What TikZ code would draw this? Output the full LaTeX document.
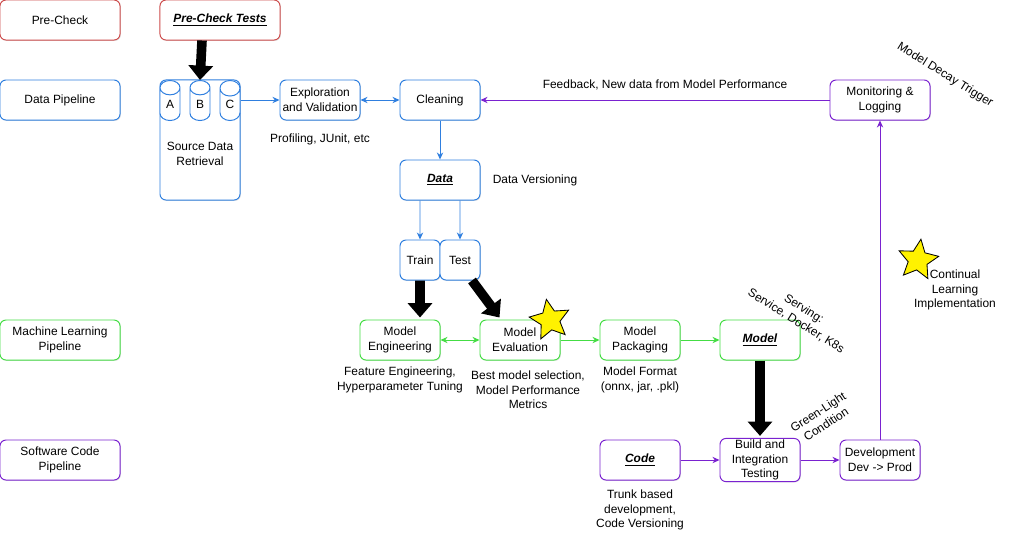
\documentclass[tikz,border=0pt]{standalone}
\usepackage{fontspec}
\setmainfont{Liberation Sans}
\usetikzlibrary{shapes.geometric,arrows.meta,shadows}
\definecolor{prered}{HTML}{CC4B4B}
\definecolor{datablue}{HTML}{2F7FDF}
\definecolor{mlgreen}{HTML}{44DD44}
\definecolor{codepurple}{HTML}{7A22D0}
\begin{document}
\begin{tikzpicture}[
        x=0.025cm, y=-0.025cm,
        every node/.style={font=\fontsize{8.5}{10.4}\selectfont, align=center},
        box/.style={rectangle, rounded corners=0.15cm, draw, fill=white, line width=0.7pt, minimum width=2cm, minimum height=1cm, inner sep=1pt, drop shadow={opacity=0.25, shadow xshift=0.6pt, shadow yshift=-0.6pt}},
        prebox/.style={box, draw=prered},
        databox/.style={box, draw=datablue},
        mlbox/.style={box, draw=mlgreen},
        codebox/.style={box, draw=codepurple},
        lane/.style={minimum width=3cm},
        drum/.style={cylinder, shape border rotate=90, aspect=1.8, draw=datablue, fill=white, line width=0.7pt, minimum width=0.5cm, minimum height=1cm, inner sep=0pt, anchor=north},
        bigarrow/.style={line width=0.24cm, -{Triangle[width=0.6cm, length=0.36cm]}},
        arrow/.style={-{Stealth[length=5pt, width=4.5pt]}, line width=0.6pt},
        twoway/.style={{Stealth[length=5pt, width=4.5pt]}-{Stealth[length=5pt, width=4.5pt]}, line width=0.6pt},
        remark/.style={star, star points=5, star point ratio=2.1, draw, fill=yellow, line width=0.6pt, minimum size=1.05cm, inner sep=0pt}
    ]
    \useasboundingbox (0,0) rectangle (1011,541);

    % row labels
    \node[prebox, lane] (precheck) at (60,20) {Pre-Check};
    \node[databox, lane] (datapipe) at (60,100) {Data Pipeline};
    \node[mlbox, lane] (mlpipe) at (60,340) {Machine Learning\\Pipeline};
    \node[codebox, lane] (codepipe) at (60,460) {Software Code\\Pipeline};

    % data pipeline
    \node[prebox, lane] (tests) at (220,20) {\textbf{\textit{\underline{Pre-Check Tests}}}};
    \node[databox, minimum height=3cm] (source) at (200,140) {};
    \node (sourcetext) at (200,154) {Source Data\\Retrieval};
    \node[drum] (srcA) at (170,80) {\raisebox{-3pt}{A}};
    \node[drum] (srcB) at (200,80) {\raisebox{-3pt}{B}};
    \node[drum] (srcC) at (230,80) {\raisebox{-3pt}{C}};
    \node[databox] (explore) at (320,100) {Exploration\\and Validation};
    \node[databox] (clean) at (440,100) {Cleaning};
    \node[databox] (data) at (440,180) {\textbf{\textit{\underline{Data}}}};
    \node[databox, minimum width=1cm] (train) at (420,260) {Train};
    \node[databox, minimum width=1cm] (test) at (460,260) {Test};
    \node (profiling) at (320,139) {Profiling, JUnit, etc};
    \node (versioning) at (535,180) {Data Versioning};
    \node (feedback) at (665,85) {Feedback, New data from Model Performance};
    \node[rotate=-32] (decay) at (945,75) {Model Decay Trigger};

    % machine learning pipeline
    \node[mlbox] (engineer) at (400,340) {Model\\Engineering};
    \node[mlbox] (evaluate) at (520,340) {Model\\Evaluation};
    \node[mlbox] (package) at (640,340) {Model\\Packaging};
    \node[mlbox] (model) at (760,340) {\textbf{\textit{\underline{Model}}}};
    \node (featnote) at (400,380) {Feature Engineering,\\Hyperparameter Tuning};
    \node (evalnote) at (528,390) {Best model selection,\\Model Performance\\Metrics};
    \node (formatnote) at (640,380) {Model Format\\(onnx, jar, .pkl)};
    \node[rotate=-32] (serving) at (800,315) {Serving:\\Service, Docker, K8s};

    % software code pipeline
    \node[codebox] (code) at (640,460) {\textbf{\textit{\underline{Code}}}};
    \node[codebox] (build) at (760,460) {Build and\\Integration\\Testing};
    \node[codebox] (deploy) at (880,460) {Development\\Dev -> Prod};
    \node[codebox, minimum width=2.5cm] (monitor) at (880,100) {Monitoring \&\\Logging};
    \node (trunknote) at (640,510) {Trunk based\\development,\\Code Versioning};
    \node[rotate=33] (greenlight) at (822,418) {Green-Light\\Condition};
    \node (continual) at (955,290) {Continual\\Learning\\Implementation};

    % connectors
    \draw[bigarrow] ([xshift=-0.45cm]tests.south) -- (srcB.north);
    \draw[bigarrow] (train.south) -- ([xshift=0.5cm, yshift=0.05cm]engineer.north);
    \draw[bigarrow] ([xshift=0.3cm]test.south) -- ([xshift=0.5cm, yshift=0.05cm]evaluate.north west);
    \draw[bigarrow] (model.south) -- ([yshift=0.05cm]build.north);

    \draw[arrow, datablue] (explore.west -| srcC.east) -- (explore.west);
    \draw[twoway, datablue] (explore) -- (clean);
    \draw[arrow, datablue] (clean) -- (data);
    \draw[arrow, datablue] ([xshift=-0.5cm]data.south) -- (train.north);
    \draw[arrow, datablue] ([xshift=0.5cm]data.south) -- (test.north);

    \draw[twoway, mlgreen] (engineer) -- (evaluate);
    \draw[arrow, mlgreen] (evaluate) -- (package);
    \draw[arrow, mlgreen] (package) -- (model);

    \draw[arrow, codepurple] (code) -- (build);
    \draw[arrow, codepurple] (build) -- (deploy);
    \draw[arrow, codepurple] (deploy) -- (monitor);
    \draw[arrow, codepurple] (monitor) -- (clean);

    % highlights
    \node[remark, rotate=10] (evalstar) at (550,320) {};
    \node[remark, rotate=-8] (learnstar) at (918,260) {};

\end{tikzpicture}
\end{document}
